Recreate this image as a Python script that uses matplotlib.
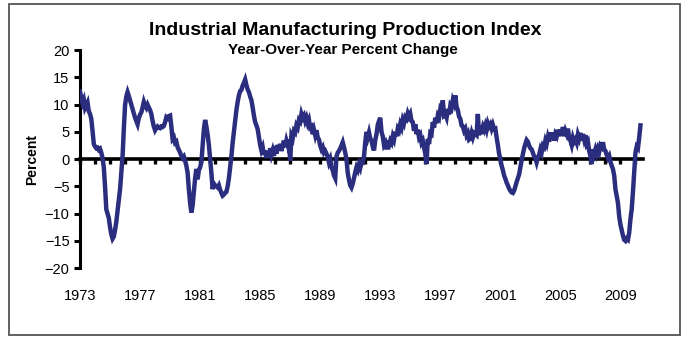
import numpy as np
from matplotlib import pyplot as plt
from matplotlib.patches import Rectangle

plt.rcParams["font.family"] = ["Liberation Sans", "DejaVu Sans"]

start_year = 1973
# monthly year-over-year % change, Jan 1973 .. May 2010
pct_change = [
    12.4, 11.2, 10.3, 10.9, 9.4, 9.9, 10.4, 8.8, 8.3, 7.4, 5.2, 2.8,          # 1973
    2.3, 2.0, 2.1, 1.7, 1.9, 1.2, 0.2, -1.5, -5.0, -9.2, -10.0, -10.8,        # 1974
    -12.5, -13.8, -14.6, -14.2, -13.0, -11.5, -9.5, -7.5, -5.5, -2.5, 0.5, 5.5,  # 1975
    9.9, 11.5, 12.3, 11.6, 10.8, 10.0, 9.2, 8.4, 7.6, 7.0, 6.4, 7.5,          # 1976
    8.2, 8.6, 9.5, 10.5, 9.8, 9.4, 10.0, 9.5, 9.0, 8.3, 7.0, 6.0,             # 1977
    5.3, 5.7, 6.0, 5.8, 5.7, 6.0, 5.9, 6.1, 6.8, 7.7, 7.5, 7.9,               # 1978
    8.0, 6.0, 3.7, 4.0, 3.0, 3.2, 2.2, 1.7, 1.2, 0.6, 0.2, 0.5,               # 1979
    -0.2, -1.2, -2.5, -5.5, -8.0, -9.8, -8.5, -6.0, -3.5, -1.8, -3.7, -2.0,   # 1980
    -1.5, -0.6, 2.5, 5.5, 7.2, 6.0, 4.5, 2.6, 0.0, -2.5, -5.5, -4.5,          # 1981
    -4.8, -5.0, -5.2, -4.8, -5.6, -6.2, -6.7, -6.5, -6.2, -6.0, -5.0, -3.5,   # 1982
    -1.5, 0.5, 3.0, 5.0, 7.0, 9.0, 10.5, 11.7, 12.5, 12.7, 13.5, 14.0,        # 1983
    14.6, 13.6, 12.8, 12.3, 11.5, 10.8, 9.5, 8.0, 6.8, 6.2, 5.5, 4.0,         # 1984
    2.6, 1.6, 2.2, 0.8, 1.6, 0.2, 1.4, 0.4, 2.0, 0.8, 1.6, 0.6,               # 1985
    2.4, 1.0, 2.6, 1.6, 2.8, 1.5, 2.5, 3.4, 2.2, 3.4, 2.6, 3.6,               # 1986
    -0.3, 4.3, 3.8, 5.2, 4.9, 6.2, 5.8, 7.2, 6.9, 8.3, 7.6, 8.0,              # 1987
    7.0, 7.6, 6.6, 7.2, 5.8, 6.0, 4.6, 5.4, 4.4, 5.3, 4.0, 3.6,               # 1988
    2.5, 1.8, 2.2, 1.2, 1.5, 1.0, 0.5, -0.6, 0.0, -1.5, -2.0, -3.0,           # 1989
    -3.5, 0.5, 1.2, 1.5, 2.0, 2.5, 3.1, 2.2, 1.2, 0.0, -2.5, -3.8,            # 1990
    -4.8, -5.2, -4.5, -3.5, -2.4, -1.5, -2.0, -1.0, -1.6, -0.5, -0.6, 0.5,    # 1991
    3.1, 5.0, 4.0, 4.9, 3.8, 3.4, 2.3, 1.6, 3.5, 4.6, 6.3, 7.0,               # 1992
    7.6, 5.0, 4.2, 2.6, 3.0, 1.8, 2.8, 2.5, 3.4, 3.0, 4.2, 3.6,               # 1993
    5.0, 4.2, 5.6, 5.2, 6.4, 5.8, 7.2, 6.6, 7.7, 7.4, 8.4, 7.8,               # 1994
    8.3, 7.0, 6.8, 5.2, 6.4, 4.6, 5.4, 4.0, 4.4, 3.0, 3.4, 2.2,               # 1995
    1.0, -0.9, 3.7, 2.8, 4.8, 4.6, 6.8, 5.8, 7.6, 6.6, 8.0, 7.6,              # 1996
    9.2, 8.8, 10.8, 8.0, 8.2, 7.6, 9.2, 8.2, 9.8, 9.4, 10.8, 10.2,            # 1997
    11.7, 9.6, 9.0, 7.8, 7.4, 6.2, 6.0, 5.2, 5.6, 4.4, 4.8, 3.6,              # 1998
    3.8, 4.8, 4.0, 4.8, 4.6, 4.4, 8.3, 4.4, 5.4, 5.2, 6.0, 5.4,               # 1999
    6.2, 5.4, 6.6, 6.0, 6.4, 5.6, 6.3, 5.5, 5.6, 4.0, 2.6, 1.0,               # 2000
    0.0, -1.2, -2.0, -3.0, -3.6, -4.3, -4.8, -5.4, -5.8, -6.1, -6.2, -5.8,    # 2001
    -5.0, -4.2, -3.5, -2.8, -1.5, -0.2, 0.9, 2.0, 2.8, 3.5, 3.2, 2.5,         # 2002
    2.0, 1.8, 1.2, 0.5, 0.2, -0.6, 0.3, 0.8, 1.8, 1.2, 2.5, 2.2,              # 2003
    3.4, 2.8, 4.0, 3.2, 4.9, 3.8, 4.8, 3.4, 4.6, 4.2, 5.4, 4.2,               # 2004
    5.4, 4.4, 5.9, 4.2, 5.2, 4.6, 5.6, 4.0, 3.4, 2.6, 3.9, 3.2,               # 2005
    3.6, 3.0, 4.5, 3.8, 4.8, 3.4, 4.6, 3.6, 4.4, 2.8, 3.2, 1.5,               # 2006
    0.6, -0.9, 1.8, 1.0, 1.8, 1.0, 1.9, 1.3, 2.5, 2.2, 3.1, 1.8,              # 2007
    1.5, 0.8, 0.2, 0.6, -0.5, -1.2, -1.8, -3.0, -5.5, -6.7, -8.0, -10.5,      # 2008
    -12.0, -13.0, -14.0, -14.8, -15.0, -14.6, -14.8, -13.5, -11.0, -9.2, -6.0, -2.5,  # 2009
    1.2, 2.3, 2.0, 4.0, 6.2,                                                  # 2010
]
tick_years = list(range(1973, 2011))
label_years = [1973, 1977, 1981, 1985, 1989, 1993, 1997, 2001, 2005, 2009]
y_ticks = [-20, -15, -10, -5, 0, 5, 10, 15, 20]

dates = start_year + np.arange(len(pct_change)) / 12.0

fig = plt.figure(figsize=(6.84, 3.39), dpi=100)
ax = fig.add_axes([0.117, 0.209, 0.823, 0.643])

ax.plot(dates, pct_change, color="#2B2E7F", lw=3.2, zorder=3, solid_joinstyle="miter")

ax.set_xlim(1973, 2010.5)
ax.set_ylim(-20, 20)

# zero line with yearly tick marks
ax.spines["bottom"].set_position(("data", 0))
ax.spines["bottom"].set_linewidth(2.6)
ax.spines["left"].set_linewidth(2.2)
ax.spines["top"].set_visible(False)
ax.spines["right"].set_visible(False)
ax.set_xticks(tick_years)
ax.set_xticklabels([])
ax.tick_params(axis="x", direction="out", length=3.5, width=2.4, color="black")
ax.set_yticks(y_ticks)
ax.tick_params(axis="y", direction="out", length=4.5, width=2.2, labelsize=10.5, pad=3)
ax.set_ylabel("Percent", fontsize=10, fontweight="bold", labelpad=4)

# year labels sit below the plot area
sec = ax.secondary_xaxis(0)
sec.set_xticks(label_years)
sec.set_xticklabels([str(y) for y in label_years])
sec.tick_params(length=0, pad=15, labelsize=10.5)
sec.spines["bottom"].set_visible(False)

fig.text(0.505, 0.91, "Industrial Manufacturing Production Index",
         ha="center", va="center", fontsize=14, fontweight="bold")
fig.text(0.502, 0.852, "Year-Over-Year Percent Change",
         ha="center", va="center", fontsize=11, fontweight="bold")

fig.patches.append(Rectangle((9 / 684, 4 / 339), 671 / 684, 331 / 339,
                             transform=fig.transFigure, fill=False,
                             edgecolor="#555555", lw=1.3))

plt.savefig("out.png", dpi=100)
